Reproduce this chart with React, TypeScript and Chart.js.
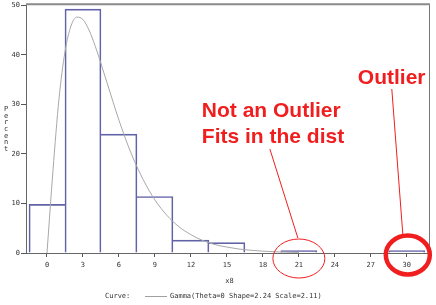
import React, { useEffect, useRef } from 'react';
import { Chart, registerables } from 'chart.js';

Chart.register(...registerables);

// Histogram bins (midpoints) and percentages
const binCenters = [0, 3, 6, 9, 12, 15, 18, 21, 24, 27, 30];
const binPercents = [9.8, 49.2, 24, 11.4, 2.6, 2.1, 0, 0.5, 0, 0, 0.5];

// Fitted gamma curve
const curveX = [0, 0.5, 1, 1.5, 2, 2.5, 3, 3.5, 4, 5, 6, 7, 8, 9, 10, 11, 12, 13, 14, 15, 16, 17, 18, 19, 20, 21];
const curveY = [0, 16.7, 31.1, 40.6, 45.8, 47.6, 47.1, 45.0, 41.9, 34.4, 26.8, 20.2, 14.9, 10.7, 7.6, 5.3, 3.7, 2.5, 1.7, 1.2, 0.8, 0.55, 0.37, 0.25, 0.16, 0.1];

const xTicks = [0, 3, 6, 9, 12, 15, 18, 21, 24, 27, 30];
const yTicks = [0, 10, 20, 30, 40, 50];

const xTitle = 'x8';
const yTitle = 'Percent';
const legendLabel = 'Curve:';
const curveLabel = 'Gamma(Theta=0 Shape=2.24 Scale=2.11)';
const noteInlier = ['Not an Outlier', 'Fits in the dist'];
const noteOutlier = 'Outlier';
const inlierX = 21;
const outlierX = 30;

const MONO = '"DejaVu Sans Mono", monospace';

const decorPlugin = {
  id: 'decor',
  afterDraw(chart: any) {
    const { ctx, chartArea, scales } = chart;
    const xs = scales.x;
    const { left, right, top, bottom } = chartArea;
    ctx.save();
    // frame: top and right
    ctx.strokeStyle = '#8a8a8a';
    ctx.lineWidth = 2;
    ctx.beginPath();
    ctx.moveTo(left, top - 1);
    ctx.lineTo(right + 1, top - 1);
    ctx.stroke();
    ctx.lineWidth = 1;
    ctx.strokeStyle = '#777';
    ctx.beginPath();
    ctx.moveTo(right + 0.5, top);
    ctx.lineTo(right + 0.5, bottom);
    ctx.stroke();

    // y title: stacked letters
    ctx.fillStyle = '#333';
    ctx.font = `7px ${MONO}`;
    ctx.textAlign = 'center';
    ctx.textBaseline = 'middle';
    const letters = yTitle.split('');
    const yMid = (top + bottom) / 2;
    const step = 6.6;
    letters.forEach((ch, i) => {
      ctx.fillText(ch, 6, yMid - ((letters.length - 1) / 2) * step + i * step);
    });

    // x title
    ctx.fillText(xTitle, (left + right) / 2 + 2, bottom + 28);

    // legend
    const ly = bottom + 43;
    ctx.textAlign = 'left';
    ctx.fillText(legendLabel, 105, ly);
    ctx.strokeStyle = '#a0a0a0';
    ctx.lineWidth = 1;
    ctx.beginPath();
    ctx.moveTo(145, ly + 0.5);
    ctx.lineTo(167, ly + 0.5);
    ctx.stroke();
    ctx.fillText(curveLabel, 170, ly);

    // annotations
    const red = '#f01e1e';
    const xIn = xs.getPixelForValue(inlierX);
    const xOut = xs.getPixelForValue(outlierX);
    ctx.fillStyle = red;
    ctx.font = 'bold 21px "Liberation Sans", Arial, sans-serif';
    ctx.textAlign = 'left';
    ctx.textBaseline = 'alphabetic';
    ctx.fillText(noteInlier[0], xIn - 97, 117);
    ctx.fillText(noteInlier[1], xIn - 97, 143);
    ctx.fillText(noteOutlier, xOut - 49, 84);

    ctx.strokeStyle = red;
    ctx.lineWidth = 1;
    ctx.beginPath();
    ctx.moveTo(xIn - 29, 149);
    ctx.lineTo(xIn - 1, 238);
    ctx.stroke();
    ctx.beginPath();
    ctx.moveTo(xOut - 15, 89);
    ctx.lineTo(xOut - 4, 234);
    ctx.stroke();

    ctx.beginPath();
    ctx.ellipse(xIn, bottom + 5.5, 26, 19.5, 0, 0, Math.PI * 2);
    ctx.stroke();

    ctx.lineWidth = 4.5;
    ctx.beginPath();
    ctx.ellipse(xOut + 1, bottom + 2, 22, 19.5, 0, 0, Math.PI * 2);
    ctx.stroke();
    ctx.restore();
  },
};

// Shared edges drawn once, by the taller of the two neighbouring bars
function barBorder(ctx: any) {
  const i = ctx.dataIndex;
  const v = binPercents[i];
  if (!v) return 0;
  const prev = i > 0 ? binPercents[i - 1] : 0;
  const next = i < binPercents.length - 1 ? binPercents[i + 1] : 0;
  return {
    top: 1,
    bottom: 0,
    left: prev <= v ? 1 : 0,
    right: next < v ? 1 : 0,
  };
}

export default function App() {
  const ref = useRef<HTMLCanvasElement>(null);
  useEffect(() => {
    if (!ref.current) return;
    const chart = new Chart(ref.current, {
      type: 'bar',
      data: {
        datasets: [
          {
            type: 'line',
            data: curveX.map((x, i) => ({ x, y: curveY[i] })),
            borderColor: '#a8a8a8',
            borderWidth: 1,
            pointRadius: 0,
            cubicInterpolationMode: 'monotone',
            fill: false,
            order: 0,
          } as any,
          {
            type: 'bar',
            data: binCenters.map((x, i) => ({ x, y: binPercents[i] })),
            backgroundColor: 'rgba(0,0,0,0)',
            borderColor: '#6262a8',
            borderWidth: barBorder,
            borderSkipped: false,
            barPercentage: 1,
            categoryPercentage: 1,
            order: 1,
          } as any,
        ],
      },
      options: {
        responsive: false,
        animation: false,
        devicePixelRatio: 1,
        layout: { padding: { top: 3, right: 7, left: 0, bottom: 0 } },
        plugins: { legend: { display: false }, tooltip: { enabled: false } },
        scales: {
          x: {
            type: 'linear',
            min: -1.75,
            max: 31.85,
            offset: false,
            afterBuildTicks: (s: any) => {
              s.ticks = xTicks.map((v) => ({ value: v }));
            },
            afterFit: (s: any) => {
              s.height = 52;
            },
            grid: { drawOnChartArea: false, drawTicks: true, tickLength: 4, color: '#555', offset: false },
            border: { color: '#666', width: 1 },
            ticks: { font: { family: MONO, size: 7 }, color: '#333', padding: 4, maxRotation: 0, autoSkip: false },
          },
          y: {
            type: 'linear',
            min: 0,
            max: 50,
            afterBuildTicks: (s: any) => {
              s.ticks = yTicks.map((v) => ({ value: v }));
            },
            afterFit: (s: any) => {
              s.width = 26;
            },
            grid: { drawOnChartArea: false, drawTicks: true, tickLength: 5, color: '#555' },
            border: { color: '#666', width: 1 },
            ticks: { font: { family: MONO, size: 7 }, color: '#333', padding: 1 },
          },
        },
      },
      plugins: [decorPlugin],
    } as any);
    return () => chart.destroy();
  }, []);
  return (
    <div style={{ position: 'absolute', left: 0, top: 0, width: 436, height: 305, background: '#fff' }}>
      <canvas ref={ref} width={436} height={305} style={{ display: 'block' }} />
    </div>
  );
}
